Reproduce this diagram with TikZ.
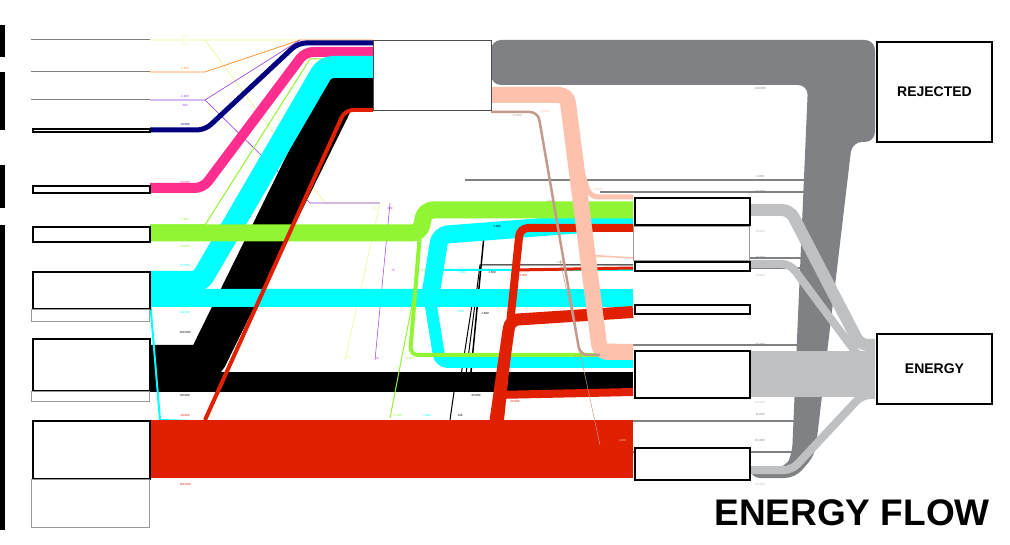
\documentclass[tikz,border=0pt]{standalone}
\usepackage{fontspec}
\setsansfont{Liberation Sans}
\begin{document}
\begin{tikzpicture}[x=1pt,y=-1pt,
  box/.style={draw=black,line width=2pt,fill=white,inner sep=0pt,anchor=north west},
  gbox/.style={draw=gray!80,line width=0.8pt,fill=white,inner sep=0pt,anchor=north west},
  band/.style={line width=#1,rounded corners=8pt},
  lbl/.style={font=\sffamily\fontsize{3}{3}\selectfont,inner sep=0pt},
  hd/.style={font=\sffamily\bfseries\fontsize{14}{14}\selectfont}]
\definecolor{cgreen}{RGB}{144,245,50}
\definecolor{ccyan}{RGB}{0,255,255}
\definecolor{cred}{RGB}{224,32,0}
\definecolor{cpink}{RGB}{255,46,143}
\definecolor{cnavy}{RGB}{0,0,128}
\definecolor{csalmon}{RGB}{252,194,174}
\definecolor{cbrown}{RGB}{196,154,140}
\definecolor{cdgray}{RGB}{128,129,132}
\definecolor{clgray}{RGB}{191,192,194}
\definecolor{cyel}{RGB}{235,245,140}
\definecolor{corange}{RGB}{255,150,50}
\definecolor{cpurple}{RGB}{150,60,220}
\useasboundingbox (0,0) rectangle (1010,545);
\fill[white] (0,0) rectangle (1010,545);
\foreach \a/\b in {25/57,72/130,165/208,225/530} \fill[black] (0,\a) rectangle (5,\b);
% rejected gray
\fill[cdgray,rounded corners=10pt] (491,40)--(875,40)--(875,142)--(852,142)--(815,455)--(795,478)--(750,478)--(750,468)--(785,468)--(792,455)--(808,85)--(491,85)--cycle;
\foreach \y/\xa in {180/465,192/600,258/750,268/750,345/600,421/490,452/500}
  \draw[cdgray,line width=2pt] (\xa,\y)--(805,\y);
% light gray to energy
\draw[clgray,band=12pt] (750,210)--(790,210)--(860,345)--(875,345);
\draw[clgray,band=8pt] (750,264)--(790,264)--(860,358)--(875,358);
\draw[clgray,line width=46pt] (750,374)--(875,374);
\draw[clgray,band=8pt] (750,470)--(792,470)--(862,395)--(875,395);
% thin left lines
\draw[gray,line width=1pt] (31,40)--(150,40) (31,72)--(150,72) (31,100)--(150,100);
\draw[cyel,line width=0.6pt] (150,40)--(300,40) (205,40)--(325,203)--(380,203);
\draw[corange,line width=0.8pt] (150,72)--(205,72)--(300,40)--(373,40);
\draw[cpurple,line width=0.6pt] (150,100)--(205,100)--(300,40) (205,100)--(310,203)--(380,203);
\draw[cyel,line width=0.5pt] (380,203)--(345,360);
\draw[cpurple,line width=0.5pt] (390,203)--(375,360);
\draw[cnavy,band=5pt] (150,130)--(205,130)--(298,43)--(373,43);
\draw[cpink,band=10pt] (150,188)--(203,188)--(305,52)--(373,52);
\draw[cgreen,line width=1pt] (150,225)--(205,225)--(310,59)--(373,59);
% black
\draw[black,band=38pt] (150,364)--(205,364)--(340,90)--(373,90);
\draw[black,line width=20pt] (150,382)--(633,382);
\draw[black,line width=1.5pt,rounded corners=3pt] (470,382)--(485,225)--(633,225);
\draw[black,line width=1pt] (465,382)--(480,265)--(633,265);
\draw[black,line width=1pt] (460,382)--(472,305)--(633,305);
\draw[black,line width=1pt] (455,385)--(450,420);
% cyan
\draw[ccyan,band=22pt] (150,282)--(200,282)--(325,67)--(373,67);
\draw[ccyan,band=18pt] (150,298)--(430,298)--(440,235)--(633,220);
\draw[ccyan,line width=18pt] (150,298)--(633,298);
\draw[ccyan,band=12pt] (430,300)--(440,362)--(633,362);
\draw[ccyan,line width=2pt] (440,270)--(633,270) (150,300)--(160,420)--(500,430)--(633,445);
% green
\draw[cgreen,band=17pt] (150,233)--(420,233)--(425,210)--(633,210);
\draw[cgreen,band=4pt] (420,233)--(410,355)--(633,355);
\draw[cgreen,line width=1pt] (413,300)--(390,418);
% red
\draw[cred,band=4pt] (205,420)--(345,110)--(373,110);
\draw[cred,line width=58pt] (150,449)--(633,449);
\draw[cred,band=12pt] (492,445)--(510,320)--(633,312);
\draw[cred,band=8pt] (500,420)--(520,228)--(633,228);
\draw[cred,line width=3pt] (510,320)--(515,270)--(633,268);
\draw[cred,line width=8pt] (495,395)--(633,392);
% salmon / brown
\draw[csalmon,band=16pt] (491,95)--(567,95)--(600,352)--(633,352);
\draw[csalmon,band=5pt] (575,150)--(590,197)--(633,197);
\draw[csalmon,line width=1.5pt] (585,255)--(633,258);
\draw[cbrown,band=2.5pt] (491,112)--(538,112)--(580,355)--(600,355);
\draw[cbrown,line width=0.5pt] (560,260)--(600,445);
% boxes left
\node[box,minimum width=117pt,minimum height=3pt] (L1) at (32,128) {};
\node[box,minimum width=117pt,minimum height=7pt] (L2) at (32,185) {};
\node[box,minimum width=117pt,minimum height=15pt] (L3) at (32,226) {};
\node[box,minimum width=117pt,minimum height=37pt] (L4) at (32,271) {};
\node[gbox,minimum width=118pt,minimum height=12pt] (L4b) at (31,309) {};
\node[box,minimum width=117pt,minimum height=52pt] (L5) at (32,338) {};
\node[gbox,minimum width=118pt,minimum height=10pt] (L5b) at (31,391) {};
\node[box,minimum width=117pt,minimum height=58pt] (L6) at (32,420) {};
\node[gbox,minimum width=118pt,minimum height=48pt] (L6b) at (31,479) {};
\node[gbox,draw=black!70,minimum width=118pt,minimum height=70pt] (T) at (373,40) {};
% right boxes
\node[box,minimum width=115pt,minimum height=27pt] (R1) at (634,197) {};
\node[gbox,minimum width=116pt,minimum height=34pt] (R2) at (633,226) {};
\node[box,minimum width=115pt,minimum height=9pt] (R3) at (634,261) {};
\node[box,minimum width=115pt,minimum height=9pt] (R4) at (634,304) {};
\node[box,minimum width=115pt,minimum height=47pt] (R5) at (634,350) {};
\node[box,minimum width=115pt,minimum height=32pt] (R6) at (634,447) {};
\node[box,minimum width=115pt,minimum height=100pt] (REJ) at (876,41) {};
\node[hd] (rejt) at (REJ.center) {REJECTED};
\node[box,minimum width=115pt,minimum height=70pt] (EN) at (876,333) {};
\node[hd] (ent) at (EN.center) {ENERGY};
\node[font=\sffamily\bfseries\fontsize{37}{37}\selectfont,anchor=east,inner sep=0pt] (title) at (990,513) {ENERGY FLOW};
% labels
\foreach \x/\y/\c/\t in {185/36/cyel/200,185/44/cyel/110,185/68/corange/1.600,185/96/cpurple/2.400,185/105/cpurple/400,185/124/cnavy/13.000,185/182/cpink/20.000,185/219/cgreen/4.000,185/246/cgreen/40.000,185/265/ccyan/67.000,185/312/ccyan/64.000,185/332/black/100.000,185/395/black/80.000,185/415/cred/10.000,185/484/cred/100.000,
 375/208/cyel/100,390/208/cpurple/230,365/270/cyel/70,393/270/cpurple/75,423/270/cgreen/150,348/357/cyel/500,377/358/cpurple/54,410/358/cgreen/6.400,448/358/ccyan/20.000,398/415/cgreen/2.500,427/415/ccyan/2.600,460/415/black/140,476/395/black/45.000,
 437/203/cgreen/10.000,470/226/ccyan/11.000,497/226/black/3.200,530/231/cred/8.600,492/272/black/1.500,523/275/cred/4.300,462/272/ccyan/7.500,485/313/black/1.600,460/311/ccyan/7.200,525/320/cred/25.000,515/401/cred/20.000,518/440/cred/80.000,
 517/115/cbrown/12.500,545/111/csalmon/10.000,550/201/cbrown/4.500,598/189/csalmon/10.000,560/262/cbrown/1.200,600/257/csalmon/10.000,578/356/cbrown/6.700,612/344/csalmon/10.000,622/440/csalmon/1.100,
 760/88/gray/130.000,760/176/gray/2.200,760/191/gray/30.000,760/231/clgray/30.000,760/257/gray/10.000,760/275/clgray/19.000,760/344/gray/25.000,760/402/clgray/112.000,760/414/gray/11.000,760/440/gray/81.000,760/484/clgray/31.000}
 \node[lbl,text=\c] at (\x,\y) {\t};
\end{tikzpicture}
\end{document}
